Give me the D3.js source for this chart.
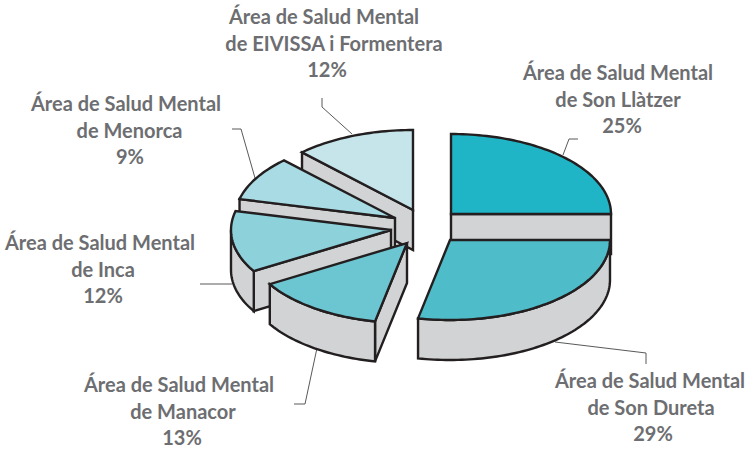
<!DOCTYPE html>
<html>
<head>
<meta charset="utf-8">
<script src="https://cdn.jsdelivr.net/npm/d3@7"></script>
<style>
  html, body { margin: 0; padding: 0; background: #fff; }
  text { font-family: Lato, sans-serif; font-weight: 700; font-size: 20px; fill: #6d6e71; text-anchor: middle; }
</style>
</head>
<body>
<svg id="chart" width="748" height="449"></svg>
<script>
// clockwise from 12 o'clock
const categories = ['Son Llàtzer', 'Son Dureta', 'Manacor', 'Inca', 'Menorca', 'EIVISSA i Formentera'];
const percentLabels = [25, 29, 13, 12, 9, 12];
// slice sizes as measured on the drawing, they differ a bit from the printed numbers
const sliceShares = [25, 28.2, 13.2, 12.4, 9, 12.2];
const colors = ['#1fb5c6', '#4fbcc9', '#6cc6d2', '#8dd1db', '#a9dbe4', '#c5e5eb'];

// where each exploded slice sits (apex of the top face), same order as above
const apexes = [[451, 214], [450, 240], [407, 243], [391, 230], [395, 218], [413, 210]];
const paintOrder = [5, 4, 3, 0, 2, 1];

// label centre x of each of the 3 lines, first baseline
const labelPos = [
  [618, 618, 622, 80],
  [650, 651, 653, 388],
  [179, 183, 182, 392],
  [100, 103, 103, 250],
  [126, 129.5, 130, 111],
  [324, 334, 327, 24]
];
const leaders = [
  [[563, 155], [569, 139], [578, 139]],
  [[555, 342], [646, 353], [646, 364]],
  [[317, 348], [305, 404], [294, 404]],
  [[232, 284], [200, 284]],
  [[255, 178], [241, 129], [232, 129]],
  [[352, 134], [322, 107], [322, 98]]
];

const rx = 160, ry = 80, depth = 40;
const dark = '#231f20', wallGray = '#d1d3d4';

const svg = d3.select('#chart');

const pie = d3.pie().sort(null).value(d => d);
const arcs = pie(sliceShares);

const line = d3.line();

// angle is measured clockwise from the top, like d3.pie
function onRim(apex, a, drop) {
  return [apex[0] + rx * Math.sin(a), apex[1] - ry * Math.cos(a) + drop];
}

function rim(apex, a0, a1, drop) {
  let steps = Math.max(2, Math.ceil((a1 - a0) * 40));
  return d3.range(steps + 1).map(i => onRim(apex, a0 + (a1 - a0) * i / steps, drop));
}

// leaders go under the slices
svg.append('g')
  .selectAll('path')
  .data(leaders)
  .join('path')
  .attr('d', d => line(d))
  .attr('fill', 'none')
  .attr('stroke', '#58595b')
  .attr('stroke-width', 1);

paintOrder.forEach(i => {
  let apex = apexes[i];
  let a0 = arcs[i].startAngle, a1 = arcs[i].endAngle;
  let g = svg.append('g').attr('stroke', dark).attr('stroke-width', 2.4).attr('stroke-linejoin', 'miter');

  // cut faces, only the ones turned towards the viewer
  let cuts = [];
  if (Math.sin(a0) < -1e-6) cuts.push(a0);
  if (Math.sin(a1) > 1e-6) cuts.push(a1);
  cuts.forEach(a => {
    let p = onRim(apex, a, 0);
    g.append('path')
      .attr('d', line([apex, p, [p[0], p[1] + depth], [apex[0], apex[1] + depth]]) + 'Z')
      .attr('fill', wallGray);
  });

  // outer wall, only the part that faces the viewer
  let w0 = Math.max(a0, Math.PI / 2), w1 = Math.min(a1, Math.PI * 1.5);
  if (w1 > w0) {
    let top = rim(apex, w0, w1, 0);
    let bottom = rim(apex, w0, w1, depth).reverse();
    g.append('path')
      .attr('d', line(top.concat(bottom)) + 'Z')
      .attr('fill', wallGray);
  }

  // top face
  g.append('path')
    .attr('d', line([apex].concat(rim(apex, a0, a1, 0))) + 'Z')
    .attr('fill', colors[i]);
});

const labels = svg.append('g')
  .selectAll('text')
  .data(categories)
  .join('text')
  .attr('transform', (d, i) => `translate(0,${labelPos[i][3]})`);

labels.append('tspan').attr('x', (d, i) => labelPos[i][0]).attr('y', 0).text('Área de Salud Mental');
labels.append('tspan').attr('x', (d, i) => labelPos[i][1]).attr('y', 26.7).text(d => 'de ' + d);
labels.append('tspan').attr('x', (d, i) => labelPos[i][2]).attr('y', 53.4).text((d, i) => percentLabels[i] + '%');
</script>
</body>
</html>
